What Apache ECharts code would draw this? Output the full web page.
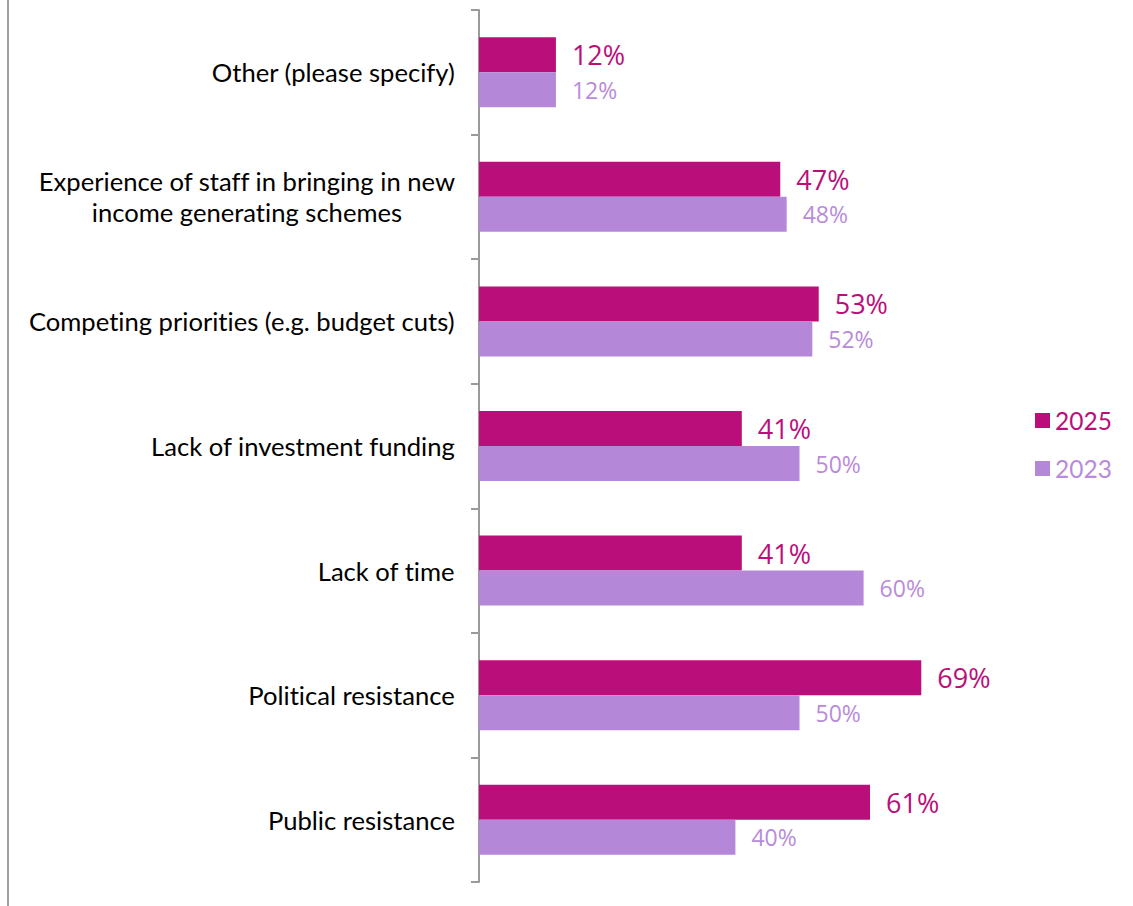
<!DOCTYPE html>
<html>
<head>
<meta charset="utf-8">
<script src="https://cdn.jsdelivr.net/npm/echarts@6/dist/echarts.min.js"></script>
<style>
  html, body { margin: 0; padding: 0; background: #ffffff; }
  #chart { width: 1133px; height: 906px; }
  #chart text { font-variant-ligatures: none; }
</style>
</head>
<body>
<div id="chart"></div>
<script>
// Barriers to new income generating schemes, share of respondents (%)
const categories = [
  'Other (please specify)',
  'Experience of staff in bringing in new\nincome generating schemes',
  'Competing priorities (e.g. budget cuts)',
  'Lack of investment funding',
  'Lack of time',
  'Political resistance',
  'Public resistance'
];
const values2025 = [12, 47, 53, 41, 41, 69, 61];
const values2023 = [12, 48, 52, 50, 60, 50, 40];
const seriesNames = ['2025', '2023'];

const COLOR_2025 = '#BA0F7B';
const COLOR_2023 = '#B587D8';
const LABEL_COLOR_2023 = '#B98BDB';
const FONT = 'Lato';
const NUM_FONT = 'Open Sans';

const chart = echarts.init(document.getElementById('chart'), null, { renderer: 'svg' });

function barSeries(name, data, color, labelColor, labelSize) {
  return {
    name: name,
    type: 'bar',
    data: data,
    barWidth: 35,
    barGap: '0%',
    itemStyle: { color: color },
    label: {
      show: true,
      position: 'right',
      distance: 16,
      formatter: '{c}%',
      color: labelColor,
      fontFamily: NUM_FONT,
      fontSize: labelSize
    },
    emphasis: { disabled: true }
  };
}

chart.setOption({
  animation: false,
  backgroundColor: '#ffffff',
  grid: { left: 479, right: 13, top: 10, bottom: 24, containLabel: false },
  xAxis: {
    type: 'value',
    min: 0,
    max: 100,
    show: false
  },
  yAxis: {
    type: 'category',
    inverse: true,
    data: categories,
    axisLine: { show: true, lineStyle: { color: '#9a9a9a', width: 2 } },
    axisTick: { show: true, inside: false, length: 8, lineStyle: { color: '#9a9a9a', width: 2 } },
    axisLabel: {
      margin: 24,
      color: '#000000',
      fontFamily: FONT,
      fontSize: 25.6,
      lineHeight: 31,
      formatter: function (v) {
        return v.split('\n').map(function (s) { return '{c|' + s + '}'; }).join('\n');
      },
      rich: {
        c: { align: 'center', color: '#000000', fontFamily: FONT, fontSize: 25.6, lineHeight: 31 }
      }
    }
  },
  legend: {
    orient: 'vertical',
    left: 1035,
    top: 408,
    padding: 0,
    itemWidth: 15,
    itemHeight: 15,
    itemGap: 23,
    icon: 'rect',
    textStyle: { fontFamily: FONT, fontSize: 24.5 },
    data: [
      { name: seriesNames[0], textStyle: { color: COLOR_2025 } },
      { name: seriesNames[1], textStyle: { color: LABEL_COLOR_2023 } }
    ]
  },
  graphic: [
    {
      type: 'line',
      shape: { x1: 8, y1: 0, x2: 8, y2: 906 },
      style: { stroke: '#a0a0a0', lineWidth: 2 }
    }
  ],
  series: [
    barSeries(seriesNames[0], values2025, COLOR_2025, COLOR_2025, 27),
    barSeries(seriesNames[1], values2023, COLOR_2023, LABEL_COLOR_2023, 23)
  ]
});
</script>
</body>
</html>
